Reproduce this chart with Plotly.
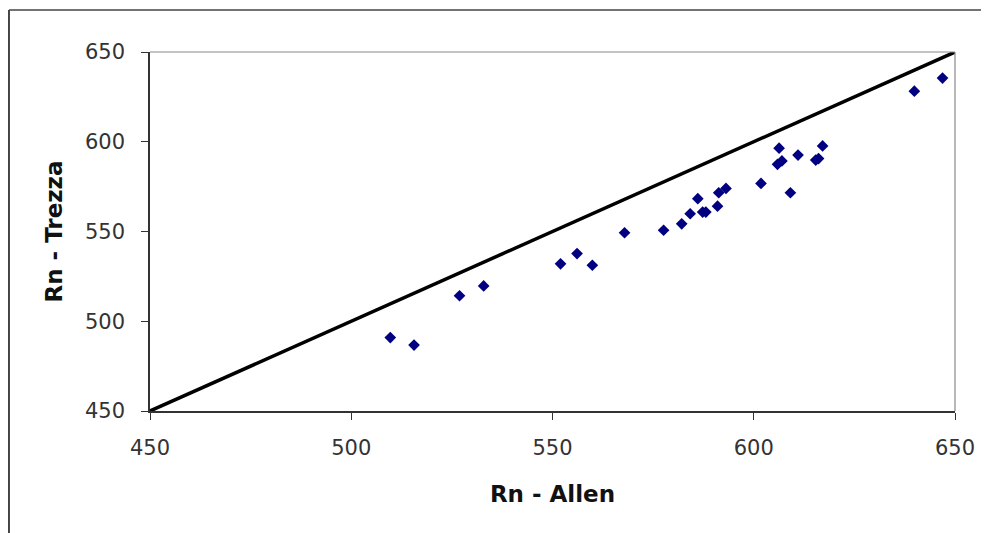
import plotly.graph_objects as go

# Valores (Rn - Allen x Rn - Trezza)
rn_allen = [509.7, 515.6, 526.9, 532.9, 552.0, 556.1, 559.9, 567.9, 577.6, 582.1,
            584.2, 586.1, 587.3, 588.1, 591.0, 591.3, 593.1, 601.8, 609.1, 606.3,
            607.0, 605.9, 611.0, 615.4, 616.1, 617.1, 639.9, 646.9]
rn_trezza = [490.9, 486.7, 514.2, 519.7, 532.0, 537.7, 531.2, 549.3, 550.7, 554.3,
             559.9, 568.3, 560.8, 560.8, 564.1, 571.6, 574.0, 576.8, 571.6, 596.4,
             589.3, 587.4, 592.6, 589.8, 590.6, 597.7, 628.2, 635.5]

# Linha 1:1
linha_x = [450, 650]
linha_y = [450, 650]

ticks = [450, 500, 550, 600, 650]

fig = go.Figure()

fig.add_trace(go.Scatter(
    x=rn_allen,
    y=rn_trezza,
    mode='markers',
    marker=dict(symbol='diamond', size=9, color='#000080'),
    showlegend=False
))

fig.add_trace(go.Scatter(
    x=linha_x,
    y=linha_y,
    mode='lines',
    line=dict(color='black', width=3.5),
    showlegend=False
))

fig.update_layout(
    width=989,
    height=533,
    margin=dict(l=142, r=42, t=44, b=130),
    paper_bgcolor='white',
    plot_bgcolor='white',
    font=dict(family='DejaVu Sans', size=21, color='#333333'),
    xaxis=dict(
        range=[450, 650],
        tickvals=ticks,
        showgrid=False,
        zeroline=False,
        showline=True,
        linecolor='#333333',
        linewidth=1.5,
        ticks='outside',
        ticklen=7,
        tickcolor='#333333',
        ticklabelstandoff=10,
        title=dict(text='<b>Rn - Allen</b>',
                   font=dict(family='DejaVu Sans', size=23, color='#111111'),
                   standoff=27),
    ),
    yaxis=dict(
        range=[450, 650],
        tickvals=ticks,
        showgrid=False,
        zeroline=False,
        showline=True,
        linecolor='#333333',
        linewidth=1.5,
        ticks='outside',
        ticklen=7,
        tickcolor='#333333',
        ticklabelstandoff=12,
        title=dict(text='<b>Rn - Trezza</b>',
                   font=dict(family='DejaVu Sans', size=23, color='#111111'),
                   standoff=16),
    ),
)

# Moldura cinza do topo e da direita da área do gráfico
fig.add_shape(type='line', xref='paper', yref='paper', x0=0, y0=1, x1=1, y1=1,
              line=dict(color='#888888', width=1.2))
fig.add_shape(type='line', xref='paper', yref='paper', x0=1, y0=0, x1=1, y1=1,
              line=dict(color='#888888', width=1.2))

# Borda externa (esquerda e topo)
fig.add_shape(type='line', xref='paper', yref='paper', x0=-0.1752, y0=-0.4, x1=-0.1752, y1=1.117,
              line=dict(color='#444444', width=2))
fig.add_shape(type='line', xref='paper', yref='paper', x0=-0.1752, y0=1.117, x1=1.1, y1=1.117,
              line=dict(color='#444444', width=1.5))

fig.write_html("out.html")
